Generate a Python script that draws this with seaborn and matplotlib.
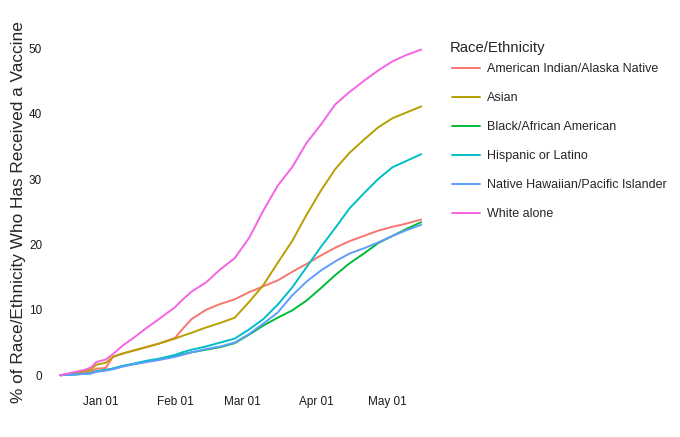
import pandas as pd
import matplotlib.pyplot as plt
import matplotlib.dates as mdates
import seaborn as sns

# sample dates
dates = ["2020-12-15", "2020-12-20", "2020-12-25", "2020-12-28", "2020-12-30",
         "2021-01-03", "2021-01-06", "2021-01-10", "2021-01-15", "2021-01-20",
         "2021-01-25", "2021-02-01", "2021-02-04", "2021-02-08", "2021-02-14",
         "2021-02-20", "2021-02-26", "2021-03-04", "2021-03-10", "2021-03-16",
         "2021-03-22", "2021-03-28", "2021-04-03", "2021-04-09", "2021-04-15",
         "2021-04-21", "2021-04-27", "2021-05-03", "2021-05-09", "2021-05-15"]

aian = [0, 0.2, 0.4, 0.6, 1.0, 1.1, 2.8, 3.3, 3.8, 4.3, 4.8, 5.7, 7.0, 8.6, 10.0,
        10.9, 11.6, 12.7, 13.6, 14.5, 15.8, 17.0, 18.3, 19.5, 20.5, 21.3, 22.1, 22.7, 23.2, 23.8]
asian = [0, 0.3, 0.6, 0.9, 1.6, 1.9, 2.8, 3.3, 3.8, 4.3, 4.8, 5.6, 6.0, 6.5, 7.3,
         8.0, 8.8, 11.2, 13.8, 17.2, 20.5, 24.5, 28.2, 31.5, 34.0, 36.0, 37.9, 39.3, 40.2, 41.1]
black = [0, 0.1, 0.2, 0.3, 0.6, 0.8, 1.0, 1.4, 1.7, 2.1, 2.4, 2.9, 3.2, 3.5, 3.9,
         4.3, 4.9, 6.2, 7.6, 8.8, 9.9, 11.4, 13.3, 15.3, 17.1, 18.6, 20.2, 21.3, 22.4, 23.4]
hispanic = [0, 0.1, 0.2, 0.3, 0.6, 0.8, 1.0, 1.4, 1.8, 2.2, 2.5, 3.1, 3.5, 3.9, 4.4,
            5.0, 5.6, 7.0, 8.6, 10.8, 13.4, 16.5, 19.6, 22.5, 25.5, 27.8, 30.0, 31.8, 32.8, 33.8]
nhpi = [0, 0.1, 0.2, 0.3, 0.5, 0.7, 0.9, 1.3, 1.7, 2.0, 2.3, 2.8, 3.1, 3.5, 4.0,
        4.4, 5.0, 6.3, 7.9, 9.6, 12.2, 14.3, 16.0, 17.4, 18.6, 19.4, 20.3, 21.3, 22.2, 23.0]
white = [0, 0.4, 0.8, 1.2, 2.0, 2.4, 3.2, 4.5, 5.8, 7.2, 8.5, 10.4, 11.5, 12.8, 14.2,
         16.2, 17.9, 21.0, 25.2, 29.0, 31.8, 35.5, 38.3, 41.4, 43.3, 45.0, 46.6, 48.0, 49.0, 49.8]

groups = ["American Indian/Alaska Native", "Asian", "Black/African American",
          "Hispanic or Latino", "Native Hawaiian/Pacific Islander", "White alone"]
colors = ["#F8766D", "#B79F00", "#00BA38", "#00BFC4", "#619CFF", "#F564E3"]

series = [aian, asian, black, hispanic, nhpi, white]
frames = []
for g, vals in zip(groups, series):
    frames.append(pd.DataFrame({"date": pd.to_datetime(dates), "pct": vals, "group": g}))
df = pd.concat(frames)

sns.set_style("white")
plt.rcParams["font.family"] = ["Liberation Sans", "DejaVu Sans"]

fig = plt.figure(figsize=(6.8, 4.37), dpi=100)
ax = fig.add_axes([0.064, 0.104, 0.58, 0.823])

sns.lineplot(data=df, x="date", y="pct", hue="group", hue_order=groups,
             palette=colors, linewidth=1.4, ax=ax)

ax.set_xlim(pd.Timestamp("2020-12-08"), pd.Timestamp("2021-05-22"))
ax.set_ylim(-2.5, 52.5)
ax.set_yticks(range(0, 51, 10))
ax.xaxis.set_major_locator(mdates.MonthLocator(bymonth=[1, 2, 3, 4, 5]))
ax.xaxis.set_major_formatter(mdates.DateFormatter("%b %d"))
ax.tick_params(axis="both", length=0, labelsize=8.5, colors="#1a1a1a")
ax.tick_params(axis="x", pad=3)
ax.tick_params(axis="y", pad=1)
for s in ax.spines.values():
    s.set_visible(False)
ax.set_xlabel("")
ax.set_ylabel("% of Race/Ethnicity Who Has Received a Vaccine", fontsize=12.4, labelpad=2)

# legend: title placed separately so the gap matches the reference
ax.legend(loc="upper left", bbox_to_anchor=(0.664, 0.855),
          bbox_transform=fig.transFigure, frameon=False, fontsize=9,
          handlelength=2.3, handletextpad=0.5,
          labelspacing=1.36, borderaxespad=0, borderpad=0)
fig.text(450 / 680, 1 - 48 / 437, "Race/Ethnicity", fontsize=10.7, va="center", ha="left")

fig.savefig("out.png", dpi=100)
